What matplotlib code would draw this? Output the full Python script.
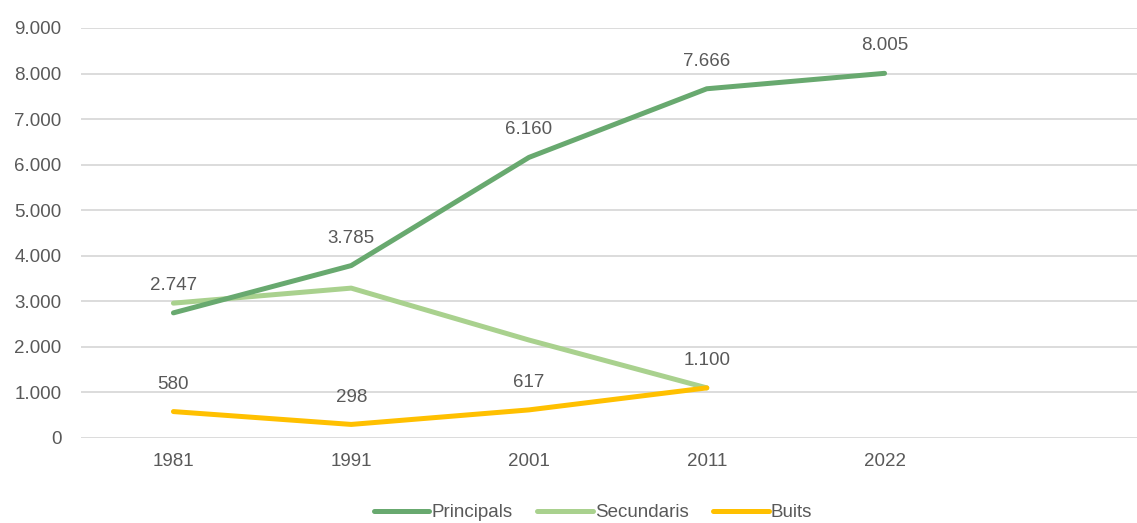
import matplotlib.pyplot as plt

# data
years = ["1981", "1991", "2001", "2011", "2022"]
principals = [2747, 3785, 6160, 7666, 8005]
secundaris = [2960, 3290, 2150, 1100]
buits = [580, 298, 617, 1100]

text_col = "#595959"
fs = 13.5
plt.rcParams["font.family"] = ["Liberation Sans", "DejaVu Sans"]

fig = plt.figure(figsize=(11.37, 5.23), dpi=100)
ax = fig.add_axes([81 / 1137, 85 / 523, 1 - 81 / 1137, 410 / 523])

x5 = list(range(len(principals)))
x4 = list(range(len(secundaris)))

ax.plot(x5, principals, color="#68A96F", lw=3.6, solid_capstyle="round", label="Principals", zorder=3)
ax.plot(x4, secundaris, color="#A9D18E", lw=3.6, solid_capstyle="round", label="Secundaris", zorder=2)
ax.plot(x4, buits, color="#FFC000", lw=3.6, solid_capstyle="round", label="Buits", zorder=4)


def fmt(v):
    return f"{v:,}".replace(",", ".")


# data labels (Secundaris has none)
for xi, v in zip(x5, principals):
    ax.annotate(fmt(v), (xi, v), xytext=(0, 16.5), textcoords="offset points",
                ha="center", va="baseline", fontsize=fs, color=text_col)
for xi, v in zip(x4, buits):
    ax.annotate(fmt(v), (xi, v), xytext=(0, 16.5), textcoords="offset points",
                ha="center", va="baseline", fontsize=fs, color=text_col)

ax.set_xlim(-0.52, 5.42)
ax.set_ylim(0, 9000)
ax.set_xticks(x5)
ax.set_xticklabels(years)
ax.set_yticks(range(0, 9001, 1000))
ax.set_yticklabels([fmt(v) for v in range(0, 9001, 1000)])
ax.tick_params(axis="both", length=0, labelsize=fs, labelcolor=text_col)
ax.tick_params(axis="x", pad=11)
ax.tick_params(axis="y", pad=14)

ax.grid(axis="y", color="#D9D9D9", lw=1.3)
ax.set_axisbelow(True)
for s in ax.spines.values():
    s.set_visible(False)

fig.legend(loc="center", bbox_to_anchor=(0.5215, 0.02), ncol=3, frameon=False,
           fontsize=fs, labelcolor=text_col, handlelength=40 / fs, handletextpad=0.12,
           columnspacing=1.3)

fig.savefig("out.png", dpi=100)
